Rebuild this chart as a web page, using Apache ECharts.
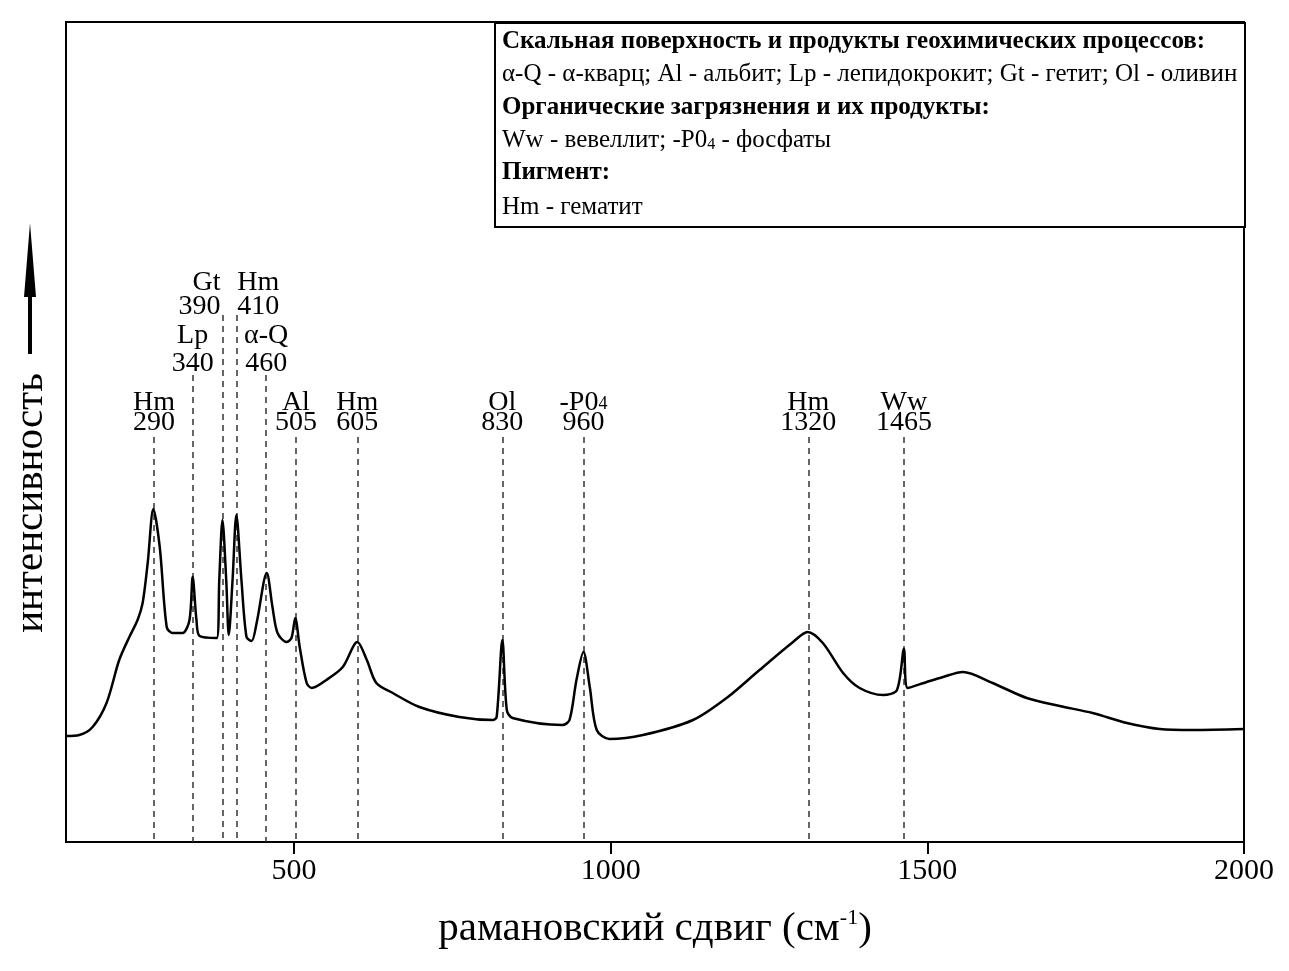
<!DOCTYPE html>
<html>
<head>
<meta charset="utf-8">
<script src="https://cdn.jsdelivr.net/npm/echarts@6/dist/echarts.min.js"></script>
<style>
html,body{margin:0;padding:0;background:#fff;}
#chart{width:1289px;height:971px;}
</style>
</head>
<body>
<div id="chart"></div>
<script>
// Raman shift (cm^-1) and intensity (arbitrary units)
const shift = [140,161,182,204,224,240,253,261,269,278,288,299,308,324,335,340,346,351,378,382,387,393,397,403,409,417,425,433,441,457,466,474,488,496,502,509,520,528,551,577,600,615,630,656,698,761,814,820,829,836,845,924,935,946,957,967,978,998,1051,1130,1183,1235,1288,1311,1335,1367,1393,1430,1452,1463,1469,1499,1525,1556,1603,1657,1709,1761,1815,1867,1919,2000];
const intensity = [106,107,115,139,182,205,222,239,279,333,295,215,209,209,222,265,222,206,204,262,322,262,207,262,327,262,205,201,219,269,235,209,200,204,224,195,159,154,162,175,200,182,159,149,135,125,122,125,202,132,124,117,122,162,190,155,112,103,107,122,144,172,200,210,199,169,154,147,152,193,154,160,165,170,159,144,136,129,119,113,112,113];

// peak markers
const peakPos   = [279,340,387,409,456,503,600,829,957,1312,1463];
const peakName  = ['Hm','Lp','Gt','Hm','α-Q','Al','Hm','Ol','-P0₄','Hm','Ww'];
const peakNum   = ['290','340','390','410','460','505','605','830','960','1320','1465'];
const peakTop   = [405,467,527,527,467,405,405,405,405,405,405];
const peakRow   = ['low','mid','high','high','mid','low','low','low','low','low','low'];
const peakAlign = ['center','center','right','left','center','center','center','center','center','center','center'];

const xTicks = [500,1000,1500,2000];
const xTitle = 'рамановский сдвиг (см';
const yTitle = 'интенсивность';

const legendLines = [
  {t:'Скальная поверхность и продукты геохимических процессов:', b:true},
  {t:'α-Q - α-кварц; Al - альбит; Lp - лепидокрокит; Gt - гетит; Ol - оливин', b:false},
  {t:'Органические загрязнения и их продукты:', b:true},
  {t:'{r|Ww - вевеллит; -P0}{s|4}{r| - фосфаты}', b:false, rich:true},
  {t:'Пигмент:', b:true},
  {t:'Hm - гематит', b:false}
];

// label row styling (line height and vertical shift)
const rowStyle = {low:{lh:20,dy:0}, mid:{lh:28,dy:7}, high:{lh:24,dy:8}};

const FONT = '"Liberation Serif","Times New Roman",serif';
const chart = echarts.init(document.getElementById('chart'), null, {renderer:'canvas'});

const lineData = shift.map((x,i)=>[x,intensity[i]]);
const markData = peakPos.map((x,i)=>[{xAxis:x,yAxis:peakTop[i]},{xAxis:x,yAxis:0}]);
const labelData = peakPos.map((x,i)=>{
  const al = peakAlign[i];
  const rs = rowStyle[peakRow[i]];
  const off = al==='right' ? -2 : (al==='left' ? 1 : 0);
  return {value:[x,peakTop[i]], name:peakName[i], num:peakNum[i],
    label:{align:al, offset:[off,rs.dy],
      rich:{
        n:{fontFamily:FONT,fontSize:28,color:'#000',lineHeight:rs.lh,align:al},
        s:{fontFamily:FONT,fontSize:18,color:'#000',lineHeight:8,verticalAlign:'bottom'}
      }}};
});

const legendGraphics = [{
  type:'rect', left:494, top:22, z:10,
  shape:{width:750,height:204},
  style:{fill:'#fff',stroke:'#000',lineWidth:2}
}];
const lineYs = [42,74,108,140,173,207];
legendLines.forEach((l,i)=>{
  const g = {
    type:'text', x:502, y:lineYs[i], z:11,
    style:{
      text:l.t, fill:'#000', font:(l.b?'bold ':'')+'25px '+FONT,
      textVerticalAlign:'middle', textAlign:'left'
    }
  };
  if(l.rich){
    g.style.rich = {
      r:{fontSize:25,fontFamily:FONT,lineHeight:26,fill:'#000'},
      s:{fontSize:16,fontFamily:FONT,lineHeight:8,verticalAlign:'bottom',fill:'#000'}
    };
  }
  legendGraphics.push(g);
});

const option = {
  animation:false,
  backgroundColor:'#fff',
  grid:{left:66,right:45,top:22,bottom:129,show:true,borderColor:'#000',borderWidth:2,containLabel:false},
  xAxis:{
    type:'value', min:140, max:2000,
    axisLine:{show:true,lineStyle:{color:'#000',width:2}},
    axisTick:{show:true,inside:false,length:12,lineStyle:{color:'#000',width:2},customValues:xTicks},
    axisLabel:{show:true,color:'#000',fontFamily:FONT,fontSize:30,margin:14,customValues:xTicks,
      formatter:(v)=>String(v)},
    splitLine:{show:false},
    name:'{a|'+xTitle+'}{s|-1}{a|)}',
    nameLocation:'middle', nameGap:65,
    nameTextStyle:{
      rich:{
        a:{fontFamily:FONT,fontSize:41,color:'#000',lineHeight:44},
        s:{fontFamily:FONT,fontSize:22,color:'#000',lineHeight:30,verticalAlign:'top'}
      }
    }
  },
  yAxis:{
    type:'value', min:0, max:820,
    axisLine:{show:false}, axisTick:{show:false}, axisLabel:{show:false}, splitLine:{show:false}
  },
  graphic:[
    {type:'text', x:31, y:503, rotation:Math.PI/2,
      style:{text:yTitle, font:'41px '+FONT, fill:'#000', textAlign:'center', textVerticalAlign:'middle'}},
    {type:'line', shape:{x1:30,y1:354,x2:30,y2:285}, style:{stroke:'#000',lineWidth:4}},
    {type:'polygon', shape:{points:[[30,223],[24,297],[36,297]]}, style:{fill:'#000'}}
  ].concat(legendGraphics),
  series:[
    {
      type:'line', data:lineData, smooth:0.3, showSymbol:false,
      lineStyle:{color:'#000',width:2.5}, z:5,
      markLine:{
        silent:true, symbol:['none','none'],
        lineStyle:{color:'#333',type:[6,5],width:1.5},
        label:{show:false},
        data:markData
      }
    },
    {
      type:'scatter', data:labelData, symbolSize:0, z:6, silent:true,
      itemStyle:{opacity:1},
      label:{
        show:true, position:'top', distance:4, color:'#000', opacity:1, textBorderWidth:0,
        formatter:(p)=>{
          const n = p.data.name.replace('₄','}{s|4}{n|');
          return '{n|'+n+'}\n{n|'+p.data.num+'}';
        }
      }
    }
  ]
};
chart.setOption(option);
</script>
</body>
</html>
